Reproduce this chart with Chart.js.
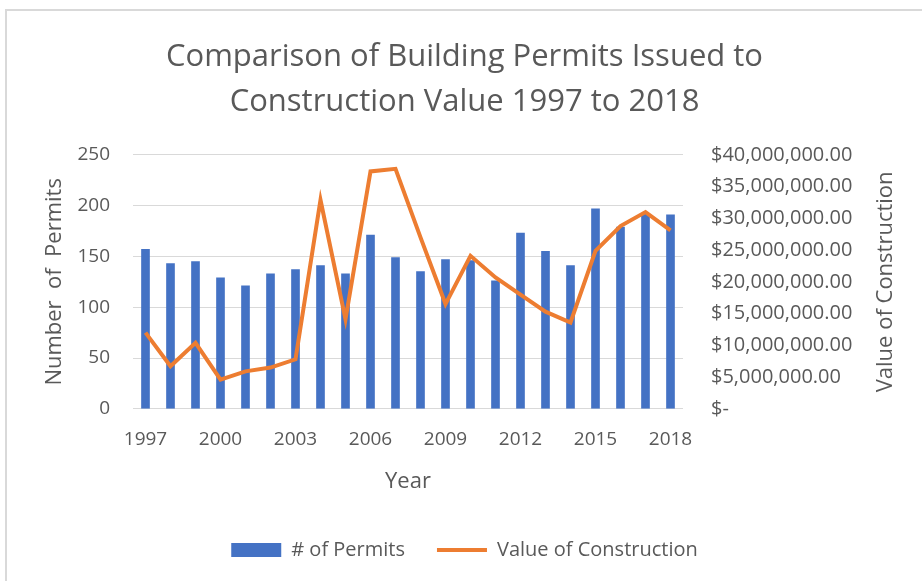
<!DOCTYPE html>
<html>
<head>
<meta charset="utf-8">
<script src="https://cdn.jsdelivr.net/npm/chart.js@4"></script>
<style>
    body { margin: 0; background: #fff; overflow: hidden; }
    #frame {
        position: absolute; left: 5px; top: 9px; width: 915px; height: 570px;
        border-left: 2px solid #d9d9d9; border-top: 2px solid #d9d9d9;
    }
</style>
</head>
<body>
<div id="frame"><canvas id="myChart"></canvas></div>
<script>
var years = ["1997", "1998", "1999", "2000", "2001", "2002", "2003", "2004", "2005", "2006", "2007",
    "2008", "2009", "2010", "2011", "2012", "2013", "2014", "2015", "2016", "2017", "2018"];
var permits = [157, 143, 145, 129, 121, 133, 137, 141, 133, 171, 149,
    135, 147, 146, 126, 173, 155, 141, 197, 179, 192, 191];
var construction = [12000000, 6700000, 10400000, 4600000, 5900000, 6500000, 7800000, 32900000, 14100000, 37400000, 37800000,
    27000000, 16500000, 24100000, 20700000, 18000000, 15300000, 13600000, 24900000, 28800000, 31000000, 28100000];

var grey = "#595959";
var fontName = "'Open Sans', sans-serif";

function money(v) {
    if (v === 0) {
        return "$-";
    }
    return "$" + v.toLocaleString("en-US", {minimumFractionDigits: 2, maximumFractionDigits: 2});
}

// Excel draws the right axis title bottom-to-top, chart.js does it the other way round
var rightTitle = {
    id: "rightTitle",
    afterDraw: function (chart) {
        var s = chart.scales.y2;
        var ctx = chart.ctx;
        ctx.save();
        ctx.translate(s.right - 36, (s.top + s.bottom) / 2);
        ctx.rotate(-Math.PI / 2);
        ctx.font = "22px " + fontName;
        ctx.fillStyle = grey;
        ctx.textAlign = "center";
        ctx.textBaseline = "middle";
        ctx.fillText("Value of Construction", 0, 0);
        ctx.restore();
    }
};

var mychart = new Chart(document.getElementById("myChart"), {
    type: "bar",
    data: {
        labels: years,
        datasets: [{
                label: "# of Permits",
                data: permits,
                backgroundColor: "#4472C4",
                barThickness: 8,
                pointStyle: "rect",
                order: 1,
                yAxisID: "y"
            }, {
                type: "line",
                label: "Value of Construction",
                data: construction,
                borderColor: "#ED7D31",
                backgroundColor: "#ED7D31",
                borderWidth: 4,
                pointRadius: 0,
                pointStyle: "line",
                tension: 0,
                order: 0,
                yAxisID: "y2"
            }
        ]
    },
    options: {
        responsive: true,
        maintainAspectRatio: false,
        animation: false,
        layout: {
            padding: {left: 0, right: 0, top: 0, bottom: 11}
        },
        plugins: {
            tooltip: {enabled: false},
            title: {
                display: true,
                text: ["Comparison of Building Permits Issued to", "Construction Value 1997 to 2018"],
                color: grey,
                font: {family: fontName, size: 31, weight: "normal", lineHeight: 1.45},
                padding: {top: 24, bottom: 30}
            },
            legend: {
                position: "bottom",
                labels: {
                    color: grey,
                    font: {family: fontName, size: 20},
                    usePointStyle: true,
                    pointStyleWidth: 50,
                    boxHeight: 14,
                    padding: 32,
                    sort: function (a, b) {
                        return a.datasetIndex - b.datasetIndex;
                    }
                }
            }
        },
        scales: {
            x: {
                grid: {display: false},
                border: {display: false},
                ticks: {
                    color: grey,
                    font: {family: fontName, size: 19},
                    autoSkip: false,
                    maxRotation: 0,
                    padding: 11,
                    callback: function (v, i) {
                        return i % 3 === 0 ? years[i] : "";
                    }
                },
                title: {
                    display: true,
                    text: "Year",
                    color: grey,
                    font: {family: fontName, size: 22},
                    padding: {top: 7, bottom: 13}
                }
            },
            y: {
                position: "left",
                min: 0,
                max: 250,
                afterFit: function (scale) {
                    scale.width = 126;
                },
                grid: {color: "#d9d9d9", drawTicks: false},
                border: {display: false},
                ticks: {
                    stepSize: 50,
                    color: grey,
                    font: {family: fontName, size: 19},
                    padding: 23
                },
                title: {
                    display: true,
                    text: "Number  of  Permits",
                    color: grey,
                    font: {family: fontName, size: 22},
                    padding: {top: 35, bottom: 0}
                }
            },
            y2: {
                position: "right",
                min: 0,
                max: 40000000,
                afterFit: function (scale) {
                    scale.width = 239;
                },
                grid: {display: false},
                border: {display: false},
                ticks: {
                    stepSize: 5000000,
                    color: grey,
                    font: {family: fontName, size: 20},
                    padding: 20,
                    callback: function (v) {
                        return money(v);
                    }
                }
            }
        }
    },
    plugins: [rightTitle]
});
</script>
</body>
</html>
